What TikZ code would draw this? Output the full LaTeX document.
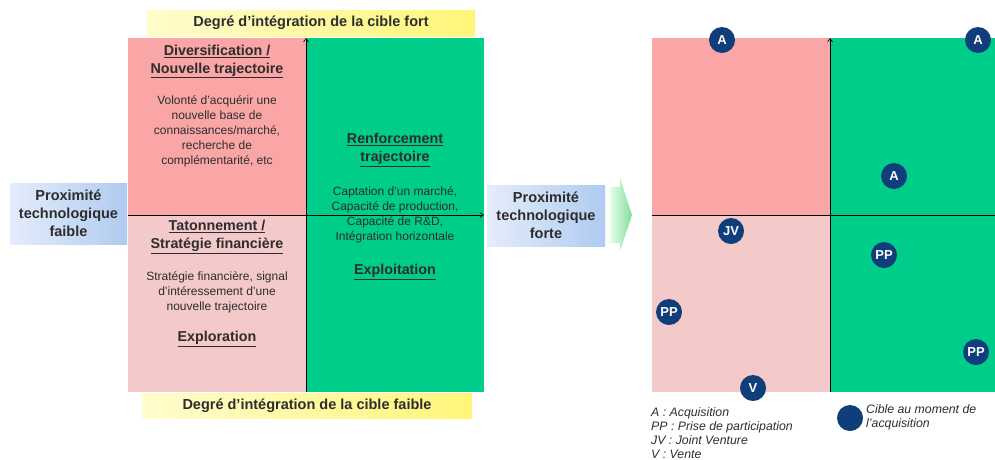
\documentclass[tikz,border=0pt]{standalone}
\usepackage{fontspec}
\setmainfont{Liberation Sans}
\usetikzlibrary{arrows.meta}
\definecolor{qred}{RGB}{250,166,166}
\definecolor{qpink}{RGB}{244,201,201}
\definecolor{qgreen}{RGB}{0,205,137}
\definecolor{dblue}{RGB}{16,62,122}
\definecolor{txt}{RGB}{45,45,45}
\definecolor{ylight}{RGB}{255,252,205}
\definecolor{ydark}{RGB}{255,246,120}
\definecolor{blight}{RGB}{228,237,250}
\definecolor{bdark}{RGB}{175,203,240}
\tikzset{
  ybar/.style={left color=ylight,right color=ydark,draw=none},
  bbox/.style={left color=blight,right color=bdark,draw=none},
  head/.style={font=\fontsize{14.3}{18}\selectfont\bfseries,text=txt,align=center,inner sep=0pt},
  body/.style={font=\fontsize{12}{15}\selectfont,text=txt,align=center,inner sep=0pt},
  lab/.style={font=\fontsize{14.5}{18}\selectfont\bfseries,text=txt,align=center,inner sep=0pt},
  axis/.style={draw=black,line width=0.6pt,-{Straight Barb[length=3.5pt,width=5pt]}},
  circ/.style={circle,fill=dblue,text=white,minimum size=26pt,inner sep=0pt,font=\fontsize{13}{13}\selectfont\bfseries},
  leg/.style={font=\fontsize{12.3}{13.8}\selectfont\itshape,text=txt,align=left,inner sep=0pt}
}
\begin{document}
\begin{tikzpicture}[x=1pt,y=-1pt]
\useasboundingbox (0,0) rectangle (995,459);
% ---------- left matrix ----------
\fill[qred] (128,38) rectangle (306,215);
\fill[qpink] (128,215) rectangle (306,392);
\fill[qgreen] (306,38) rectangle (484,392);
\shade[ybar] (147,10) rectangle (475,36);
\shade[ybar] (142,393) rectangle (472,418);
\node[lab] (topl) at (311,23) {Degré d’intégration de la cible fort};
\node[lab] (botl) at (307,406) {Degré d’intégration de la cible faible};
\coordinate (lvb) at (306,392);
\coordinate (lvt) at (306,38);
\coordinate (lhl) at (128,215);
\coordinate (lhr) at (484,215);
\draw[axis] (lvb) -- (lvt);
\draw[axis] (lhl) -- (lhr);
\shade[bbox] (10,183) rectangle (127,244);
\node[lab] (faible) at (68.5,213.5) {Proximité\\technologique\\faible};
\shade[bbox] (487,185) rectangle (605,246);
\node[lab] (forte) at (546,215.5) {Proximité\\technologique\\forte};
\shade[left color=green!10,right color={rgb,255:red,130;green,220;blue,160}] (610,187) -- (620,187) -- (620,178) -- (632,215) -- (620,251) -- (620,243) -- (610,243) -- cycle;
% texts
\node[head] (div) at (217,61.5) {\underline{Diversification /}\\\underline{Nouvelle trajectoire}};
\node[body] (divt) at (217,131.5) {Volonté d’acquérir une\\nouvelle base de\\connaissances/marché,\\recherche de\\complémentarité, etc};
\node[head] (ren) at (395,150) {\underline{Renforcement}\\\underline{trajectoire}};
\node[body] (rent) at (395,214.5) {Captation d’un marché,\\Capacité de production,\\Capacité de R\&D,\\Intégration horizontale};
\node[head] (expl) at (395,272) {\underline{Exploitation}};
\node[head] (tat) at (217,237) {\underline{Tatonnement /}\\\underline{Stratégie financière}};
\node[body] (tatt) at (217,292) {Stratégie financière, signal\\d’intéressement d’une\\nouvelle trajectoire};
\node[head] (explo) at (217,339) {\underline{Exploration}};
% ---------- right matrix ----------
\fill[qred] (652,38) rectangle (830,215);
\fill[qpink] (652,215) rectangle (830,392);
\fill[qgreen] (830,38) rectangle (995,392);
\coordinate (rvb) at (830,392);
\coordinate (rvt) at (830,38);
\coordinate (rhl) at (652,215);
\coordinate (rhr) at (995,215);
\draw[axis] (rvb) -- (rvt);
\draw[line width=0.6pt] (rhl) -- (rhr);
\node[circ] (a1) at (722,40) {A};
\node[circ] (a2) at (978,40) {A};
\node[circ] (a3) at (894,176) {A};
\node[circ] (jv) at (731,231) {JV};
\node[circ] (pp1) at (884,255) {PP};
\node[circ] (pp2) at (669,312) {PP};
\node[circ] (pp3) at (976,352) {PP};
\node[circ] (v) at (753,388) {V};
% legend
\node[leg,anchor=north west] (legt) at (651,407.5) {A : Acquisition\\PP : Prise de participation\\JV : Joint Venture\\V : Vente};
\node[circ] (legc) at (850,418) {};
\node[leg,anchor=north west] (legc2) at (866,404.5) {Cible au moment de\\l’acquisition};
\end{tikzpicture}
\end{document}
